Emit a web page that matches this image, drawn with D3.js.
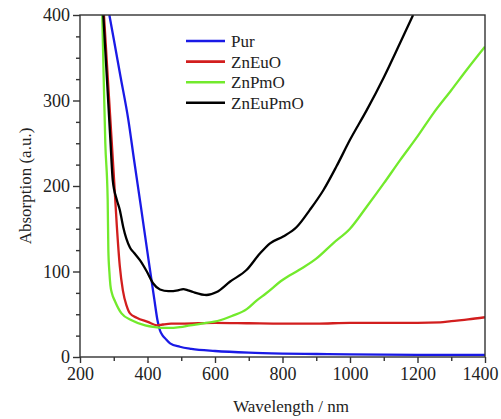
<!DOCTYPE html>
<html>
<head>
<meta charset="utf-8">
<script src="https://cdn.jsdelivr.net/npm/d3@7/dist/d3.min.js"></script>
<style>
  html, body { margin: 0; padding: 0; background: #fff; }
  svg { display: block; }
</style>
</head>
<body>
<svg id="chart" width="501" height="419"></svg>
<script>
// ---- data (wavelength nm, absorption a.u.) ----
const seriesNames = ["Pur", "ZnEuO", "ZnPmO", "ZnEuPmO"];
const seriesColors = ["#1a1ae6", "#d21e1e", "#72ea2c", "#000000"];

const purX = [287, 300, 320, 343, 360, 380, 400, 420, 430, 437, 445, 452, 467, 496, 530, 600, 700, 800, 900, 1000, 1200, 1400];
const purY = [400, 372, 328, 278, 231, 177, 122, 68, 42, 31, 25, 22, 16, 12, 9.5, 7, 5, 4, 3.5, 3, 2.5, 2.5];

const znEuOX = [271, 286, 301, 309, 318, 327, 338, 348, 368, 401, 428, 445, 470, 500, 600, 700, 800, 900, 1000, 1100, 1200, 1267, 1300, 1350, 1400];
const znEuOY = [400, 303, 207, 154, 106, 78, 60, 51, 46, 41, 37, 38, 39, 39, 40, 39.5, 39, 39, 40, 40, 40, 40.5, 42, 44, 46.5];

const znPmOX = [266, 270, 275, 282, 284, 287, 290, 295, 304, 323, 353, 393, 422, 460, 496, 526, 560, 615, 650, 694, 723, 750, 800, 850, 900, 950, 1000, 1050, 1100, 1148, 1200, 1247, 1300, 1346, 1400];
const znPmOY = [400, 330, 250, 184, 125, 100, 84, 74, 65, 51, 43, 37, 35, 34, 35, 37, 39, 43, 48, 56, 66, 74, 90, 102, 115, 133, 150, 176, 203, 230, 258, 285, 312, 336, 363];

const znEuPmOX = [269, 280, 290, 297, 309, 318, 328, 348, 360, 378, 398, 417, 437, 462, 490, 506, 520, 535, 575, 605, 644, 694, 733, 763, 802, 842, 881, 921, 960, 1000, 1050, 1100, 1148, 1187];
const znEuPmOY = [400, 324, 254, 207, 184, 172, 152, 128, 122, 113, 100, 86, 79, 77, 78, 79.5, 78, 76, 72.5, 76, 88, 102, 121, 133, 141, 152, 172, 195, 223, 254, 289, 327, 367, 400];

const xTickValues = [200, 400, 600, 800, 1000, 1200, 1400];
const yTickValues = [0, 100, 200, 300, 400];

const allX = [purX, znEuOX, znPmOX, znEuPmOX];
const allY = [purY, znEuOY, znPmOY, znEuPmOY];

const FONT = "'Liberation Serif', Tinos, 'Times New Roman', 'Nimbus Roman', 'DejaVu Serif', serif";

// ---- layout ----
const svg = d3.select("#chart");
const L = 80, R = 485, T = 15, B = 357;

const x = d3.scaleLinear().domain([200, 1400]).range([L, R]);
const y = d3.scaleLinear().domain([0, 400]).range([B, T]);

svg.append("defs").append("clipPath").attr("id", "plotclip")
  .append("rect").attr("x", L).attr("y", T).attr("width", R - L).attr("height", B - T);

// curves
const line = d3.line().x(d => x(d[0])).y(d => y(d[1])).curve(d3.curveMonotoneX);
const plot = svg.append("g").attr("clip-path", "url(#plotclip)");
allX.forEach((xs, i) => {
  const pts = xs.map((v, j) => [v, allY[i][j]]);
  plot.append("path").datum(pts)
    .attr("d", line)
    .attr("fill", "none")
    .attr("stroke", seriesColors[i])
    .attr("stroke-width", 2.3)
    .attr("stroke-linejoin", "round");
});

// frame
svg.append("rect").attr("x", L).attr("y", T).attr("width", R - L).attr("height", B - T)
  .attr("fill", "none").attr("stroke", "#333").attr("stroke-width", 1.4);

// x axis
const xAxisMinor = d3.axisBottom(x).tickValues(d3.range(300, 1400, 200)).tickSize(4).tickFormat("");
const xAxisMajor = d3.axisBottom(x).tickValues(xTickValues).tickSize(6).tickPadding(4).tickFormat(d3.format("d"));
const gxm = svg.append("g").attr("transform", `translate(0,${B})`).call(xAxisMinor);
const gx = svg.append("g").attr("transform", `translate(0,${B})`).call(xAxisMajor);
[gxm, gx].forEach(g => {
  g.select(".domain").remove();
  g.attr("font-family", null);
  g.selectAll("line").attr("stroke", "#333").attr("stroke-width", 1.4);
});
gx.selectAll("text").attr("fill", "#222").style("font-family", FONT).style("font-size", "18px");
gx.selectAll("text").filter(d => d === 1400).attr("text-anchor", "end").attr("x", 498 - x(1400));

// y axis
const yAxisMinor = d3.axisLeft(y).tickValues(d3.range(25, 400, 25).filter(v => v % 100 !== 0)).tickSize(4).tickFormat("");
const yAxisMajor = d3.axisLeft(y).tickValues(yTickValues).tickSize(7).tickPadding(3).tickFormat(d3.format("d"));
const gym = svg.append("g").attr("transform", `translate(${L},0)`).call(yAxisMinor);
const gy = svg.append("g").attr("transform", `translate(${L},0)`).call(yAxisMajor);
[gym, gy].forEach(g => {
  g.select(".domain").remove();
  g.attr("font-family", null);
  g.selectAll("line").attr("stroke", "#333").attr("stroke-width", 1.4);
});
gy.selectAll("text").attr("fill", "#222").style("font-family", FONT).style("font-size", "18px");

// axis titles
svg.append("text").attr("x", 291).attr("y", 412).attr("text-anchor", "middle")
  .style("font-family", FONT).style("font-size", "17px").attr("fill", "#222").text("Wavelength / nm");
svg.append("text").attr("transform", `translate(31,${(T + B) / 2}) rotate(-90)`)
  .attr("text-anchor", "middle").style("font-family", FONT).style("font-size", "17px")
  .attr("fill", "#222").text("Absorption (a.u.)");

// legend
const leg = svg.append("g");
seriesNames.forEach((name, i) => {
  const yy = 41 + i * 20.6;
  leg.append("line").attr("x1", 186).attr("x2", 225).attr("y1", yy).attr("y2", yy)
    .attr("stroke", seriesColors[i]).attr("stroke-width", 2.6);
  leg.append("text").attr("x", 231).attr("y", yy + 6)
    .style("font-family", FONT).style("font-size", "17px").attr("fill", "#222").text(name);
});
</script>
</body>
</html>
